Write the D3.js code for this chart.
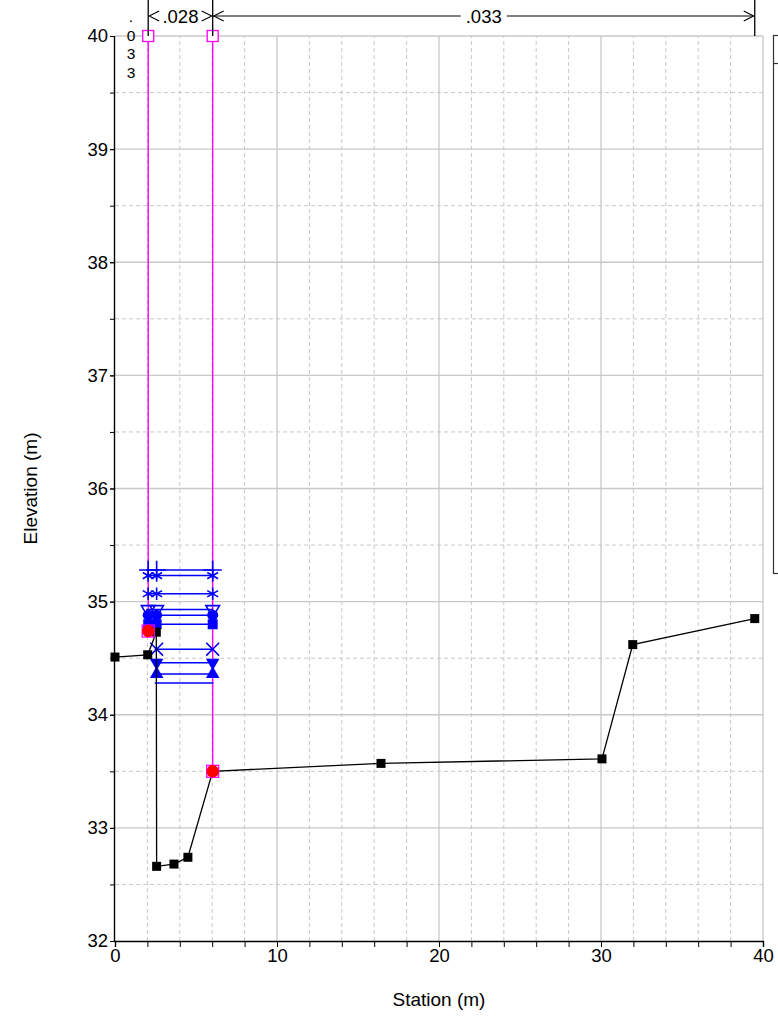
<!DOCTYPE html>
<html><head><meta charset="utf-8">
<script src="https://cdn.jsdelivr.net/npm/d3@7/dist/d3.min.js"></script>
<style>
html,body{margin:0;padding:0;background:#fff;}
svg{display:block;font-family:"Liberation Sans",Arial,sans-serif;}
</style></head>
<body><svg id="c" width="778" height="1022"></svg>
<script>
// ---- data ----
const groundStation = [0, 2.02, 2.55, 2.57, 3.64, 4.5, 6.03, 16.42, 30.06, 31.96, 39.49];
const groundElev    = [34.51, 34.53, 34.73, 32.66, 32.68, 32.74, 33.50, 33.57, 33.61, 34.62, 34.85];
const bankStation = [2.05, 6.03];
const bankElev    = [34.74, 33.50];
const bankTopElev = 40;
const wsElev   = [35.28, 35.23, 35.07, 34.93, 34.88, 34.80, 34.58, 34.46, 34.36, 34.28];
const wsMarker = ["plus", "asterisk", "asterisk", "triangleDownOpen", "circle", "square", "cross", "triangleDown", "triangle", "none"];
const manningN   = [".033", ".028", ".033"];
const manningSta = [0, 2.05, 6.03, 39.49];
const xTicks = [0, 10, 20, 30, 40];
const yTicks = [32, 33, 34, 35, 36, 37, 38, 39, 40];
const xLabel = "Station (m)", yLabel = "Elevation (m)";

// ---- layout ----
const svg = d3.select("#c");
const x = d3.scaleLinear().domain([0, 40]).range([115, 763]);
const y = d3.scaleLinear().domain([32, 40]).range([941, 36]);
const grid = "#c8c8c8";
const FS = 18.5;

// grid
const g = svg.append("g");
g.selectAll(".vmin").data(d3.range(2, 40, 2).filter(v => v % 10 !== 0)).join("line")
  .attr("x1", d => x(d)).attr("x2", d => x(d)).attr("y1", y(32)).attr("y2", y(40))
  .attr("stroke", grid).attr("stroke-dasharray", "4,3");
g.selectAll(".hmin").data(d3.range(32.5, 40, 1)).join("line")
  .attr("y1", d => y(d)).attr("y2", d => y(d)).attr("x1", x(0)).attr("x2", x(40))
  .attr("stroke", grid).attr("stroke-dasharray", "4,3");
g.selectAll(".vmaj").data(xTicks.slice(1)).join("line")
  .attr("x1", d => x(d)).attr("x2", d => x(d)).attr("y1", y(32)).attr("y2", y(40))
  .attr("stroke", grid).attr("stroke-width", 1.3);
g.selectAll(".hmaj").data(yTicks.slice(1)).join("line")
  .attr("y1", d => y(d)).attr("y2", d => y(d)).attr("x1", x(0)).attr("x2", x(40))
  .attr("stroke", grid).attr("stroke-width", 1.3);

// axes
const xAxisMinor = d3.axisBottom(x).tickValues(d3.range(0, 41, 2)).tickSize(6).tickFormat("");
svg.append("g").attr("transform", `translate(0,${y(32)})`).call(xAxisMinor)
  .call(a => a.select(".domain").remove());
const xAxis = d3.axisBottom(x).tickValues(xTicks).tickSize(6).tickPadding(2).tickFormat(d3.format("d"));
svg.append("g").attr("transform", `translate(0,${y(32)})`).call(xAxis)
  .call(a => a.select(".domain").attr("stroke-width", 1.4))
  .call(a => a.selectAll("text").attr("font-size", FS).attr("fill", "#000").attr("font-family", "Liberation Sans, Arial, sans-serif"));
const yAxisMinor = d3.axisLeft(y).tickValues(d3.range(32, 40.01, 0.5)).tickSize(5).tickFormat("");
svg.append("g").attr("transform", `translate(${x(0)},0)`).call(yAxisMinor)
  .call(a => a.select(".domain").remove());
const yAxis = d3.axisLeft(y).tickValues(yTicks).tickSize(5).tickPadding(2).tickFormat(d3.format("d"));
svg.append("g").attr("transform", `translate(${x(0)},0)`).call(yAxis)
  .call(a => a.select(".domain").attr("stroke-width", 1.4).attr("d", `M-0.5,${y(32)}V${y(40)}`))
  .call(a => a.selectAll("text").attr("font-size", FS).attr("fill", "#000").attr("font-family", "Liberation Sans, Arial, sans-serif"));

svg.append("text").attr("x", (x(0) + x(40)) / 2).attr("y", 1006).attr("text-anchor", "middle")
  .attr("font-size", 19).text(xLabel);
svg.append("text").attr("transform", `translate(37,${(y(32) + y(40)) / 2}) rotate(-90)`)
  .attr("text-anchor", "middle").attr("font-size", 19).text(yLabel);

// legend box (cut off)
svg.append("rect").attr("x", 773.5).attr("y", 35.5).attr("width", 30).attr("height", 538)
  .attr("fill", "none").attr("stroke", "#333").attr("stroke-width", 1.2);
svg.append("line").attr("x1", 773).attr("x2", 778).attr("y1", 63.5).attr("y2", 63.5)
  .attr("stroke", "#333").attr("stroke-width", 1.2);

// bank station lines (magenta)
const mag = "#ff00ff";
bankStation.forEach((s, i) => {
  svg.append("line").attr("x1", x(s)).attr("x2", x(s)).attr("y1", y(bankTopElev)).attr("y2", y(bankElev[i]))
    .attr("stroke", mag).attr("stroke-width", 1.4);
  svg.append("rect").attr("x", x(s) - 5.5).attr("y", y(bankTopElev) - 5.5).attr("width", 11).attr("height", 11)
    .attr("fill", "#fff").attr("stroke", mag).attr("stroke-width", 1.3);
});

// water surfaces
const blue = "#0000ff";
const sym = {
  plus: d3.symbolPlus, asterisk: d3.symbolAsterisk, cross: d3.symbolTimes,
  circle: d3.symbolCircle, square: d3.symbolSquare, triangle: d3.symbolTriangle,
  triangleDown: d3.symbolTriangle, triangleDownOpen: d3.symbolTriangle
};
const groundWall = groundStation[3];
wsElev.forEach((e, i) => {
  const left = e > groundElev[2] ? bankStation[0] : groundWall;
  const pts = e > groundElev[2] ? [left, groundWall, bankStation[1]] : [left, bankStation[1]];
  svg.append("path").attr("d", d3.line().x(d => x(d)).y(() => y(e))([left - 0.12, ...pts.slice(1), bankStation[1] + 0.05]))
    .attr("stroke", blue).attr("stroke-width", 1.5).attr("fill", "none");
  const m = wsMarker[i];
  if (m === "none") return;
  const open = ["plus", "asterisk", "cross", "triangleDownOpen"].includes(m);
  const size = m === "square" ? 100 : (m === "circle" ? 95 : (m.startsWith("triangle") ? 80 : 110));
  const rot = m.startsWith("triangleDown") ? 180 : 0;
  svg.selectAll(null).data(pts).join("path")
    .attr("transform", d => `translate(${x(d)},${y(e)}) rotate(${rot})`)
    .attr("d", d3.symbol().type(sym[m]).size(size))
    .attr("fill", m === "triangleDownOpen" ? "none" : blue)
    .attr("stroke", blue).attr("stroke-width", open ? 1.6 : 0);
});

// ground
svg.append("path").datum(groundStation.map((s, i) => [s, groundElev[i]]))
  .attr("d", d3.line().x(d => x(d[0])).y(d => y(d[1])))
  .attr("fill", "none").attr("stroke", "#000").attr("stroke-width", 1.3);
svg.selectAll(null).data(groundStation.map((s, i) => [s, groundElev[i]])).join("rect")
  .attr("x", d => x(d[0]) - 4.5).attr("y", d => y(d[1]) - 4.5).attr("width", 9).attr("height", 9)
  .attr("fill", "#000");

// bank markers
bankStation.forEach((s, i) => {
  svg.append("rect").attr("x", x(s) - 6).attr("y", y(bankElev[i]) - 6).attr("width", 12).attr("height", 12)
    .attr("fill", "none").attr("stroke", mag).attr("stroke-width", 1.3);
  svg.append("circle").attr("cx", x(s)).attr("cy", y(bankElev[i])).attr("r", 6.2).attr("fill", "#ff0000");
});

// Manning's n annotation
const ay = 16;
manningSta.slice(1).forEach(s => {
  svg.append("line").attr("x1", x(s)).attr("x2", x(s)).attr("y1", 0).attr("y2", y(40))
    .attr("stroke", "#000").attr("stroke-width", 1.3);
});
function arrowHead(px, dir) {
  svg.append("path").attr("d", `M${px + dir * -10},${ay - 5}L${px},${ay}L${px + dir * -10},${ay + 5}`)
    .attr("fill", "none").attr("stroke", "#000").attr("stroke-width", 1.1);
}
// vertical text for left overbank (one character per line)
manningN[0].split("").forEach((ch, k) => {
  svg.append("text").attr("x", 131).attr("y", 22 + k * 18.5).attr("text-anchor", "middle")
    .attr("font-size", 15.5).text(ch);
});
for (let k = 1; k < 3; k++) {
  const a = x(manningSta[k]), b = x(manningSta[k + 1]), mid = (a + b) / 2;
  const t = svg.append("text").attr("x", mid).attr("y", ay + 6.5).attr("text-anchor", "middle")
    .attr("font-size", FS).text(manningN[k]);
  const w = t.node().getComputedTextLength() / 2 + 5;
  if (mid - w > a + 12) {
    svg.append("line").attr("x1", a).attr("x2", mid - w).attr("y1", ay).attr("y2", ay).attr("stroke", "#000");
    svg.append("line").attr("x1", mid + w).attr("x2", b).attr("y1", ay).attr("y2", ay).attr("stroke", "#000");
  }
  arrowHead(a + 1, -1);
  arrowHead(b - 1, 1);
}
</script></body></html>
